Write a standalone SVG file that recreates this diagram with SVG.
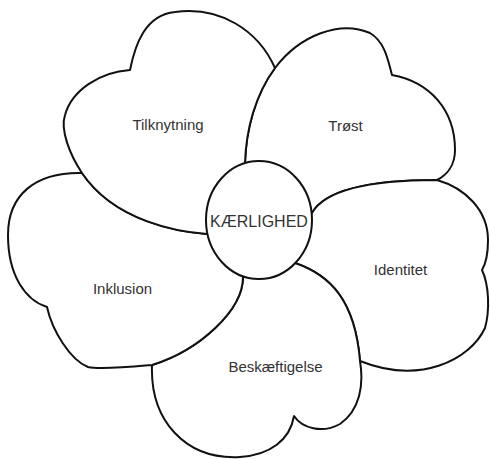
<svg xmlns="http://www.w3.org/2000/svg" width="490" height="459" viewBox="0 0 490 459">
<style>
.petal{fill:#fff;stroke:#111;stroke-width:2;stroke-linejoin:round}
.lbl{font-family:"Liberation Sans",Arial,sans-serif;font-size:15px;fill:#333;text-anchor:middle}
</style>
<rect width="490" height="459" fill="#fff"/>
<g id="connectors"></g>
<g id="petal-trost">
<path class="petal" d="M245,163 C246,130 255,95 275,68 C300,35 340,20 370,33 C385,42 388,60 392,75 C430,82 455,110 455,150 C455,165 447,175 437,180 C370,180 325,190 312,213 L259,220 Z"/>
<text class="lbl" x="345.5" y="131">Trøst</text>
</g>
<g id="petal-identitet">
<path class="petal" d="M312,213 C325,190 370,180 437,180 C465,188 488,210 488,240 C488,255 485,265 482,270 C489,285 490,310 485,328 C470,360 420,385 360,361 C355,300 330,275 295,263 L259,220 Z"/>
<text class="lbl" x="400.5" y="275">Identitet</text>
</g>
<g id="petal-beskaeftigelse">
<path class="petal" d="M295,263 C330,275 355,300 360,361 C364,385 360,410 340,424 C322,434 302,428 294,416 C290,440 270,455 240,457 C185,460 150,420 152,365 C200,350 243,310 243,277 L259,220 Z"/>
<text class="lbl" x="275.5" y="372">Beskæftigelse</text>
</g>
<g id="petal-inklusion">
<path class="petal" d="M243,277 C243,310 200,350 152,365 C130,367 100,370 88,367 C70,360 52,330 47,307 C25,300 8,275 8,235 C8,195 35,172 82,173 C115,222 180,232 207,234 L259,220 Z"/>
<text class="lbl" x="122.5" y="294">Inklusion</text>
</g>
<g id="petal-tilknytning">
<path class="petal" d="M207,234 C180,232 115,222 82,173 C70,155 60,130 65,115 C72,90 100,72 130,70 C135,45 145,15 175,12 C220,6 258,30 275,68 C255,95 246,130 245,163 L259,220 Z"/>
<text class="lbl" x="168" y="130">Tilknytning</text>
</g>
<g id="center-kaerlighed">
<ellipse class="petal" cx="259" cy="220" rx="53" ry="59"/>
<text class="lbl" x="259" y="227" style="font-size:16px">KÆRLIGHED</text>
</g>
</svg>
